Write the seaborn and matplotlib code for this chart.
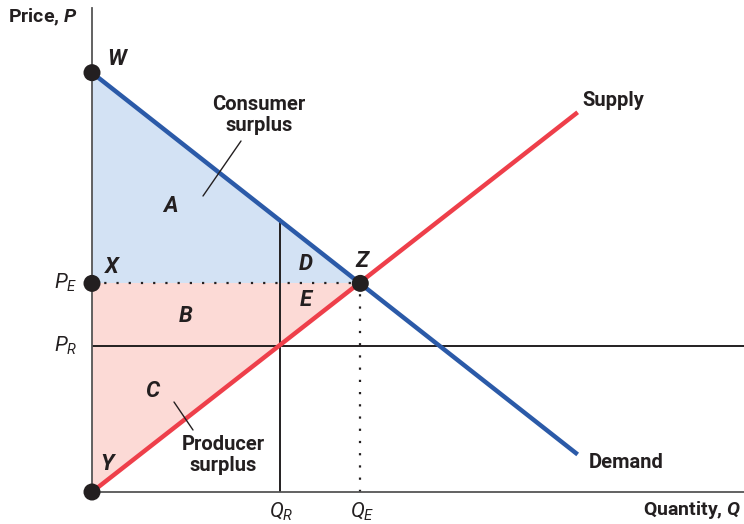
import numpy as np
import pandas as pd
import matplotlib
matplotlib.use("Agg")
import matplotlib.pyplot as plt
import seaborn as sns

# ---- data (price / quantity units) ----
demand_q = [0, 18.1]
demand_p = [20.1, 1.8]
supply_q = [0, 18.1]
supply_p = [0, 18.2]
q_e, p_e = 10, 10          # equilibrium Z
q_r, p_r = 7, 7            # restricted quantity / price
p_w = 20.1                 # choke price W
demand_at_qr = 13.1
points_q = [0, 0, q_e, 0]
points_p = [p_w, p_e, p_e, 0]
x_max, y_max = 24.3, 23.2

sns.set_style("white")
plt.rcParams['font.family'] = ['Roboto', 'DejaVu Sans']
plt.rcParams['mathtext.fontset'] = 'custom'
plt.rcParams['mathtext.it'] = 'Roboto:italic'
plt.rcParams['mathtext.rm'] = 'Roboto'
plt.rcParams['mathtext.bf'] = 'Roboto:bold'
plt.rcParams['mathtext.bfit'] = 'Roboto:italic:bold'

fig = plt.figure(figsize=(7.44, 5.24), dpi=100)
ax = fig.add_axes([92/744, 32/524, 652/744, 484/524])
ax.set_xlim(0, x_max)
ax.set_ylim(0, y_max)

blue = "#2b5aa8"
red = "#ee3f4a"
cs_fill = "#d3e2f4"
ps_fill = "#fcdad6"
dark = "#231f20"

# shaded areas
ax.fill([0, 0, q_e], [p_w, p_e, p_e], color=cs_fill, lw=0, zorder=0)
ax.fill([0, 0, q_e], [0, p_e, p_e], color=ps_fill, lw=0, zorder=0)

# reference lines
ax.plot([0, q_e], [p_e, p_e], color=dark, lw=1.6, ls=(0, (1, 4.5)), zorder=2)
ax.plot([q_e, q_e], [0, p_e], color=dark, lw=1.6, ls=(0, (1, 4.5)), zorder=2)
ax.plot([0, x_max], [p_r, p_r], color=dark, lw=1.4, zorder=2)
ax.plot([q_r, q_r], [0, demand_at_qr], color=dark, lw=1.4, zorder=2)

# curves
sns.lineplot(x=demand_q, y=demand_p, color=blue, lw=3.2, ax=ax, zorder=3,
             solid_capstyle='butt')
sns.lineplot(x=supply_q, y=supply_p, color=red, lw=3.2, ax=ax, zorder=3,
             solid_capstyle='butt')

# points
sns.scatterplot(x=points_q, y=points_p, color=dark, s=150, ax=ax, zorder=5,
                edgecolor='none', clip_on=False)

# axes styling
for s in ['top', 'right']:
    ax.spines[s].set_visible(False)
for s in ['left', 'bottom']:
    ax.spines[s].set_color("#555555")
    ax.spines[s].set_linewidth(1.3)
ax.set_xticks([])
ax.set_yticks([])

def px(xp, yp):
    return ((xp - 92) / 652 * x_max, (492 - yp) / 484 * y_max)

bi = dict(fontsize=16, fontweight='bold', fontstyle='italic', color=dark,
          ha='center', va='center')
for lbl, xp, yp in [("W", 117, 59), ("X", 112, 267), ("Y", 107, 464),
                    ("Z", 362, 261), ("A", 170, 206), ("B", 186, 316),
                    ("C", 152, 391), ("D", 306, 264), ("E", 306, 300)]:
    ax.text(*px(xp, yp), lbl, **bi)

b = dict(fontsize=14.5, fontweight='bold', color=dark, va='center')
ax.text(*px(259, 115), "Consumer\nsurplus", ha='center', linespacing=1.1, **b)
ax.text(*px(223, 455), "Producer\nsurplus", ha='center', linespacing=1.1, **b)
ax.text(*px(582, 100), "Supply", ha='left', **b)
ax.text(*px(589, 462), "Demand", ha='left', **b)

ax.plot(*zip(px(241, 141), px(203, 196)), color=dark, lw=1.0, zorder=4)
ax.plot(*zip(px(174, 402), px(193, 430)), color=dark, lw=1.0, zorder=4)

fig.text(8/744, 1 - 17/524, r"Price, $\mathbfit{P}$", fontsize=14,
         fontweight='bold', color=dark, ha='left', va='center')
fig.text(741/744, 1 - 510/524, r"Quantity, $\mathbfit{Q}$", fontsize=14,
         fontweight='bold', color=dark, ha='right', va='center')

t = dict(fontsize=15, color=dark, va='center')
fig.text(77/744, 1 - 283/524, r"$P_E$", ha='right', **t)
fig.text(77/744, 1 - 346/524, r"$P_R$", ha='right', **t)
fig.text(281/744, 1 - 512/524, r"$Q_R$", ha='center', **t)
fig.text(362/744, 1 - 512/524, r"$Q_E$", ha='center', **t)

fig.savefig("out.png", dpi=100)
